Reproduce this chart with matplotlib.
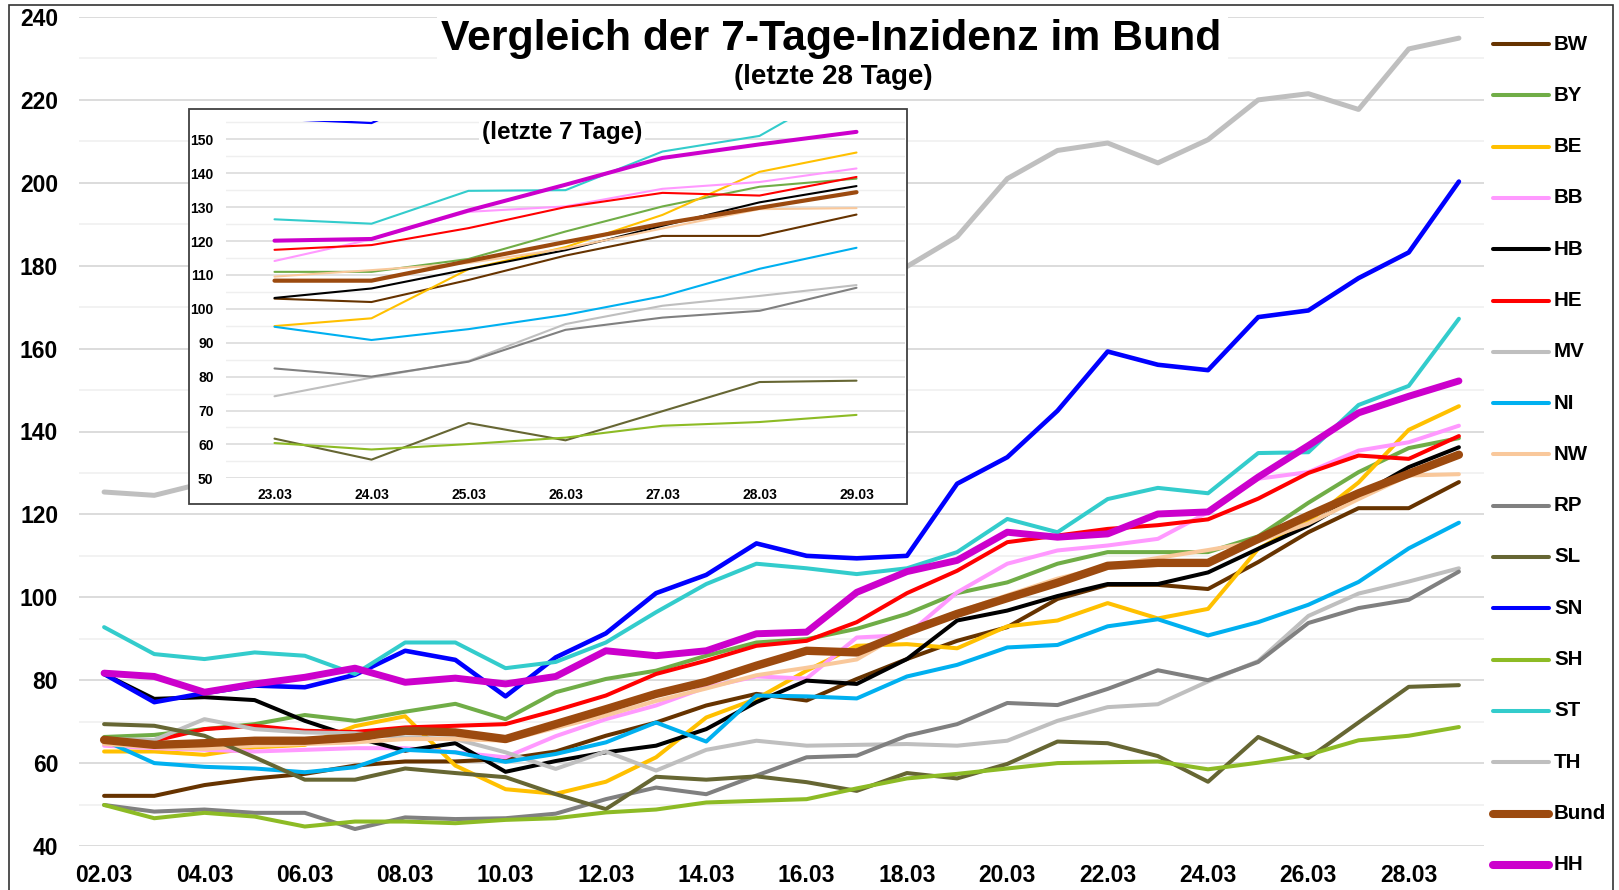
import matplotlib
matplotlib.use('Agg')
import matplotlib.pyplot as plt
from matplotlib.lines import Line2D
from matplotlib.patches import Rectangle
from matplotlib.ticker import MultipleLocator

plt.rcParams['font.family'] = ['Liberation Sans', 'DejaVu Sans']
plt.rcParams['font.weight'] = 'bold'

# 7-Tage-Inzidenz je Land, 02.03. - 29.03.
tage = ['02.03', '03.03', '04.03', '05.03', '06.03', '07.03', '08.03',
        '09.03', '10.03', '11.03', '12.03', '13.03', '14.03', '15.03',
        '16.03', '17.03', '18.03', '19.03', '20.03', '21.03', '22.03',
        '23.03', '24.03', '25.03', '26.03', '27.03', '28.03', '29.03']

BW = [52.1, 52.1, 54.7, 56.3, 57.4, 59.4, 60.4, 60.4, 61.0, 62.8, 66.6, 69.8, 73.9, 76.7,
      75.1, 80.3, 85.1, 89.5, 92.8, 99.6, 103.0, 103.0, 102.0, 108.5, 115.7, 121.5, 121.5, 127.8]
BY = [66.3, 66.8, 68.2, 69.4, 71.6, 70.2, 72.4, 74.3, 70.6, 77.1, 80.3, 82.3, 85.9, 89.1,
      89.9, 92.4, 96.0, 101.0, 103.6, 108.1, 110.9, 110.9, 110.9, 114.7, 122.8, 130.2, 136.0, 138.4]
BE = [62.8, 62.8, 62.0, 63.8, 64.4, 68.9, 71.3, 59.4, 53.7, 52.6, 55.5, 61.4, 71.0, 75.5,
      82.3, 88.3, 88.7, 87.7, 93.0, 94.4, 98.6, 94.9, 97.2, 111.7, 118.2, 127.7, 140.4, 146.1]
BB = [64.2, 63.6, 63.2, 62.8, 63.2, 63.6, 63.6, 62.6, 61.4, 66.5, 70.6, 73.9, 78.3, 80.9,
      80.4, 90.3, 90.9, 101.2, 108.1, 111.3, 112.5, 114.1, 120.5, 128.6, 130.2, 135.4, 137.4, 141.4]
HB = [81.5, 75.5, 75.9, 75.2, 70.2, 66.2, 63.0, 64.8, 57.9, 60.5, 62.6, 64.2, 68.2, 74.7,
      79.9, 79.1, 85.1, 94.4, 96.8, 100.3, 103.2, 103.2, 106.0, 111.7, 117.3, 124.5, 131.4, 136.2]
HE = [65.3, 65.4, 68.2, 69.0, 67.8, 67.5, 68.6, 69.0, 69.4, 72.7, 76.3, 81.5, 84.7, 88.3,
      89.5, 94.0, 101.0, 106.4, 113.3, 114.9, 116.5, 117.4, 118.8, 123.8, 130.0, 134.2, 133.4, 138.9]
MV = [65.8, 65.6, 70.6, 68.2, 67.4, 67.2, 66.2, 65.8, 62.6, 58.6, 62.8, 58.2, 63.2, 65.4,
      64.2, 64.4, 64.6, 64.2, 65.4, 70.2, 73.5, 74.2, 79.7, 84.6, 95.5, 100.9, 103.8, 107.0]
NI = [65.5, 60.0, 59.1, 58.7, 57.8, 59.0, 63.2, 62.6, 60.3, 62.2, 65.0, 69.8, 65.2, 76.3,
      76.1, 75.6, 80.9, 83.7, 87.9, 88.5, 93.0, 94.7, 90.8, 94.0, 98.2, 103.7, 111.8, 118.0]
NW = [64.6, 63.8, 63.4, 64.2, 64.6, 65.0, 65.8, 65.8, 65.4, 68.5, 71.5, 75.0, 78.0, 81.2,
      83.0, 85.0, 92.0, 96.4, 100.5, 104.5, 107.5, 109.5, 111.4, 113.5, 117.8, 123.7, 129.4, 129.7]
RP = [49.9, 48.3, 48.8, 48.0, 48.0, 44.1, 46.9, 46.5, 46.7, 47.8, 51.3, 54.1, 52.5, 57.0,
      61.4, 61.8, 66.6, 69.4, 74.5, 74.0, 77.9, 82.4, 80.0, 84.4, 93.8, 97.4, 99.4, 106.2]
SL = [69.4, 69.0, 66.6, 61.4, 56.0, 56.0, 58.7, 57.6, 56.6, 52.5, 48.9, 56.7, 56.0, 56.8,
      55.4, 53.3, 57.6, 56.3, 59.8, 65.2, 64.8, 61.7, 55.5, 66.3, 61.2, 69.8, 78.4, 78.8]
SN = [81.5, 74.7, 76.9, 78.7, 78.3, 81.3, 87.1, 84.9, 76.1, 85.5, 91.3, 101.0, 105.4, 113.0,
      110.0, 109.4, 110.0, 127.4, 133.8, 145.0, 159.3, 156.1, 154.8, 167.6, 169.2, 177.0, 183.2, 200.3]
SH = [49.9, 46.7, 48.0, 47.1, 44.7, 45.9, 45.9, 45.5, 46.3, 46.7, 48.1, 48.8, 50.5, 50.9,
      51.3, 53.9, 56.3, 57.4, 58.7, 60.0, 60.2, 60.4, 58.5, 60.1, 62.0, 65.5, 66.6, 68.7]
ST = [92.8, 86.3, 85.1, 86.7, 85.9, 81.5, 89.1, 89.1, 82.9, 84.4, 89.1, 96.4, 103.2, 108.1,
      107.0, 105.6, 107.0, 110.9, 118.9, 115.7, 123.7, 126.4, 125.1, 134.8, 135.0, 146.4, 151.0, 167.2]
TH = [125.4, 124.6, 127.6, 131.0, 134.0, 137.0, 141.0, 144.0, 146.0, 150.0, 155.0, 160.0, 164.0, 168.0,
      172.0, 176.0, 179.8, 187.0, 201.0, 207.8, 209.6, 204.8, 210.4, 220.0, 221.5, 217.7, 232.3, 234.9]
Bund = [65.6, 64.4, 64.8, 65.4, 65.4, 66.2, 67.8, 67.4, 65.8, 69.4, 73.0, 76.7, 79.6, 83.5,
        87.1, 86.7, 91.6, 96.0, 99.8, 103.5, 107.6, 108.3, 108.3, 114.1, 119.7, 125.1, 129.8, 134.4]
HH = [81.7, 80.9, 77.1, 79.1, 80.7, 82.9, 79.5, 80.5, 79.1, 80.9, 87.1, 85.9, 87.1, 91.2,
      91.6, 101.2, 106.2, 108.9, 115.7, 114.5, 115.3, 120.1, 120.6, 129.0, 136.6, 144.5, 148.5, 152.2]

# name, werte, farbe, linienbreite gross, linienbreite klein (Ausschnitt)
reihen = [
    ('BW', BW, '#663300', 2.9, 1.5),
    ('BY', BY, '#70AD47', 2.9, 1.5),
    ('BE', BE, '#FFC000', 2.9, 1.5),
    ('BB', BB, '#FF99FF', 2.9, 1.5),
    ('HB', HB, '#000000', 2.9, 1.5),
    ('HE', HE, '#FF0000', 2.9, 1.5),
    ('MV', MV, '#BFBFBF', 2.9, 1.5),
    ('NI', NI, '#00B0F0', 2.9, 1.5),
    ('NW', NW, '#F9C89B', 2.9, 1.5),
    ('RP', RP, '#808080', 2.9, 1.5),
    ('SL', SL, '#666633', 2.9, 1.5),
    ('SN', SN, '#0000FF', 3.3, 1.6),
    ('SH', SH, '#8DBB25', 2.9, 1.5),
    ('ST', ST, '#33CCCC', 2.9, 1.5),
    ('TH', TH, '#BFBFBF', 3.6, 1.5),
    ('Bund', Bund, '#9C4A0F', 6.0, 3.0),
    ('HH', HH, '#CC00CC', 5.0, 2.9),
]

W, H = 1619, 890


def fx(px):
    return px / W


def fy(py):
    return 1 - py / H


fig = plt.figure(figsize=(W / 100, H / 100), dpi=100)

# --- Hauptdiagramm (28 Tage) ---
ax = fig.add_axes([fx(79), fy(846), fx(1484) - fx(79), fy(17) - fy(846)])
x = list(range(len(tage)))
for name, werte, farbe, lw, _ in reihen:
    ax.plot(x, werte, color=farbe, lw=lw, solid_joinstyle='round', solid_capstyle='round')
ax.set_xlim(-0.5, 27.5)
ax.set_ylim(40, 240)
ax.yaxis.set_major_locator(MultipleLocator(20))
ax.yaxis.set_minor_locator(MultipleLocator(10))
ax.set_xticks(x[::2])
ax.set_xticklabels(tage[::2])
ax.grid(which='major', axis='y', color='#d9d9d9', lw=1.3)
ax.grid(which='minor', axis='y', color='#efefef', lw=1.1)
ax.set_axisbelow(True)
for s in ax.spines.values():
    s.set_visible(False)
ax.tick_params(which='both', length=0, labelsize=16.5)
ax.tick_params(axis='x', pad=13)
ax.tick_params(axis='y', pad=15)

# weisser Hintergrund hinter der Ueberschrift
fig.add_artist(Rectangle((fx(437), fy(92)), fx(1228) - fx(437), fy(8) - fy(92),
                         transform=fig.transFigure, facecolor='white', edgecolor='none', zorder=1))
fig.text(fx(831), fy(50), 'Vergleich der 7-Tage-Inzidenz im Bund', ha='center', va='baseline',
         fontsize=30.8, weight='bold', zorder=5)
fig.text(fx(833), fy(84), '(letzte 28 Tage)', ha='center', va='baseline',
         fontsize=20, weight='bold', zorder=5)

# --- Ausschnitt letzte 7 Tage ---
fig.add_artist(Rectangle((fx(189), fy(504)), fx(907) - fx(189), fy(109) - fy(504),
                         transform=fig.transFigure, facecolor='white', edgecolor='#404040',
                         lw=1.3, zorder=2))
ax2 = fig.add_axes([fx(226), fy(478.3), fx(905) - fx(226), fy(121) - fy(478.3)], zorder=3)
ax2.patch.set_visible(False)
x7 = list(range(7))
for name, werte, farbe, _, lw2 in reihen:
    ax2.plot(x7, werte[-7:], color=farbe, lw=lw2, solid_joinstyle='round', solid_capstyle='round')
ax2.set_xlim(-0.5, 6.5)
ax2.set_ylim(50, 155.4)
ax2.yaxis.set_major_locator(MultipleLocator(10))
ax2.yaxis.set_minor_locator(MultipleLocator(5))
ax2.set_xticks(x7)
ax2.set_xticklabels(tage[-7:])
ax2.grid(which='major', axis='y', color='#d9d9d9', lw=1.1)
ax2.grid(which='minor', axis='y', color='#efefef', lw=1.0)
ax2.set_axisbelow(True)
for s in ax2.spines.values():
    s.set_visible(False)
ax2.tick_params(which='both', length=0, labelsize=10)
ax2.tick_params(axis='x', pad=7)
ax2.tick_params(axis='y', pad=9)
fig.text(fx(562), fy(139), '(letzte 7 Tage)', ha='center', va='baseline', fontsize=17.5,
         weight='bold', zorder=5,
         bbox=dict(facecolor='white', edgecolor='none', pad=2))

# --- Legende rechts ---
for i, (name, werte, farbe, lw, _) in enumerate(reihen):
    y = 44 + i * 51.3
    dicke = 5.8 if name in ('Bund', 'HH') else 2.9
    fig.add_artist(Line2D([fx(1493), fx(1549)], [fy(y), fy(y)], transform=fig.transFigure,
                          color=farbe, lw=dicke, solid_capstyle='round'))
    fig.text(fx(1554), fy(y), name, ha='left', va='center', fontsize=14.8, weight='bold')

# Rahmen
fig.add_artist(Rectangle((fx(9), fy(896)), fx(1613) - fx(9), fy(5) - fy(896),
                         transform=fig.transFigure, fill=False, edgecolor='#333333',
                         lw=1.2, zorder=10))

fig.savefig('out.png', dpi=100)
